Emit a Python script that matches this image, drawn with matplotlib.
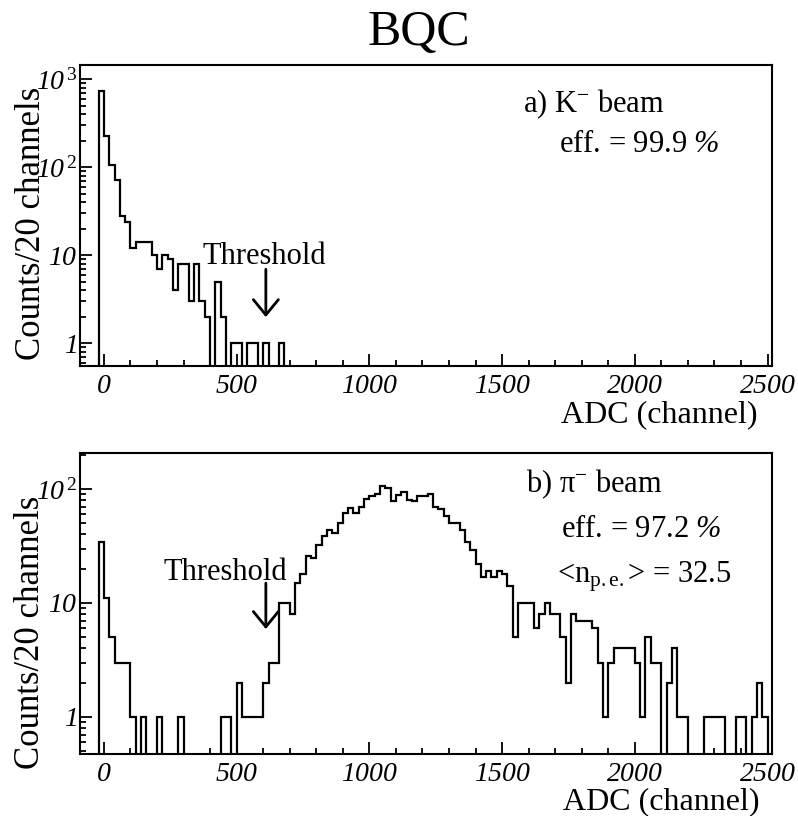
import numpy as np
import matplotlib
matplotlib.use("Agg")
import matplotlib.pyplot as plt
from matplotlib.ticker import MultipleLocator, LogLocator, FuncFormatter, NullFormatter

plt.rcParams['font.family'] = ['Liberation Serif', 'DejaVu Serif']
plt.rcParams['mathtext.fontset'] = 'custom'
plt.rcParams['mathtext.rm'] = 'Liberation Serif'
plt.rcParams['mathtext.it'] = 'Liberation Serif:italic'
# sf slot used for italic digits (mathit turns digits upright)
plt.rcParams['mathtext.sf'] = 'Liberation Serif:italic'
plt.rcParams['mathtext.bf'] = 'Liberation Serif:bold'

# ADC bins of 20 channels
edges = np.arange(-20, 2521, 20)
nbins = len(edges) - 1

# a) K- beam, counts per bin (read off the plot), rest are empty
kaon_counts = [730, 225, 107, 71, 28, 24, 12, 14, 14, 14,
               10, 7, 10, 9, 4, 8, 8, 3, 8, 3,
               2, 0, 5, 2, 0, 1, 1, 0, 1, 1,
               0, 1, 0, 0, 1]

# b) pi- beam
pion_counts = [34, 11, 5, 3, 3, 3, 1, 0, 1, 0,
               0, 1, 0, 0, 0, 1, 0, 0, 0, 0,
               0, 0, 0, 1, 1, 0, 2, 1, 1, 1,
               1, 2, 3, 3, 10, 10, 8, 15, 18, 26,
               25, 32, 39, 44, 41, 50, 61, 68, 61, 70,
               81, 86, 91, 105, 101, 79, 88, 93, 80, 79,
               87, 87, 90, 69, 66, 58, 50, 50, 44, 34,
               29, 22, 17, 19, 17, 19, 18, 14, 5, 10,
               10, 10, 6, 8, 10, 8, 8, 5, 2, 8,
               7, 7, 7, 6, 3, 1, 3, 4, 4, 4,
               4, 3, 1, 5, 3, 3, 0, 2, 4, 1,
               1, 0, 0, 0, 1, 1, 1, 1, 0, 0,
               1, 1, 0, 1, 2, 1, 0]

threshold = 610
xlim = (-90, 2515)
ylim_a = (0.548, 1460)
ylim_b = (0.473, 207)


def pad(counts):
    c = np.zeros(nbins)
    c[:len(counts)] = counts
    return c


def ylab(v, pos):
    e = int(round(np.log10(v)))
    if e == 0:
        return r'$\mathsf{1}\,\,\,\,$'
    if e == 1:
        return r'$\mathsf{10}\,\,\,$'
    return r'$\mathsf{10}^{\,\mathrm{%d}}$' % e


def xlab(v, pos):
    return r'$\mathsf{%d}$' % int(round(v))


def draw(ax, counts, ylim):
    c = pad(counts)
    low = ylim[0] * 0.01
    ax.stairs(np.where(c > 0, c, low), edges, baseline=low, color='k', lw=1.6)
    ax.set_yscale('log')
    ax.set_xlim(xlim)
    ax.set_ylim(ylim)
    ax.xaxis.set_major_locator(MultipleLocator(500))
    ax.xaxis.set_minor_locator(MultipleLocator(100))
    ax.xaxis.set_major_formatter(FuncFormatter(xlab))
    ax.yaxis.set_major_locator(LogLocator(base=10))
    ax.yaxis.set_minor_locator(LogLocator(base=10, subs=np.arange(2, 10)))
    ax.yaxis.set_major_formatter(FuncFormatter(ylab))
    ax.yaxis.set_minor_formatter(NullFormatter())
    ax.tick_params(which='both', direction='in', top=False, right=False, width=1.3)
    ax.tick_params(which='major', length=8.5, labelsize=20)
    ax.tick_params(axis='x', which='major', pad=6)
    ax.tick_params(axis='y', which='major', pad=2)
    ax.tick_params(which='minor', length=4.5)
    for s in ax.spines.values():
        s.set_linewidth(1.5)
    ax.set_xlabel('ADC (channel)', fontsize=23, ha='right', va='baseline')
    ax.set_ylabel('Counts/20 channels', fontsize=25, va='center')


fig = plt.figure(figsize=(7.98, 8.16), dpi=100)
ax1 = fig.add_axes([0.1003, 0.5515, 0.8665, 0.369])
ax2 = fig.add_axes([0.1003, 0.0760, 0.8665, 0.369])

draw(ax1, kaon_counts, ylim_a)
draw(ax2, pion_counts, ylim_b)

ax1.xaxis.set_label_coords(0.980, -0.186)
ax2.xaxis.set_label_coords(0.983, -0.182)
ax1.yaxis.set_label_coords(-0.070, 0.475)
ax2.yaxis.set_label_coords(-0.071, 0.405)

fig.text(0.525, 0.945, 'BQC', fontsize=36, ha='center', va='baseline')

# labels
ax1.text(0.640, 0.844, r'a) K$^{-}$ beam', transform=ax1.transAxes, fontsize=22, va='baseline')
ax1.text(0.6925, 0.711, r'eff. = 99.9 $\mathsf{\%}$', transform=ax1.transAxes, fontsize=22, va='baseline')
ax2.text(0.645, 0.870, r'b) π$^{-}$ beam', transform=ax2.transAxes, fontsize=22, va='baseline')
ax2.text(0.695, 0.721, r'eff. = 97.2 $\mathsf{\%}$', transform=ax2.transAxes, fontsize=22, va='baseline')
ax2.text(0.690, 0.571, r'<n$_{\mathregular{p{.}e{.}}}$> = 32.5', transform=ax2.transAxes, fontsize=22, va='baseline')

# threshold arrows
arrow = dict(arrowstyle='->,head_length=0.55,head_width=0.45', lw=2, color='k',
             mutation_scale=20, shrinkA=0, shrinkB=0)
ax1.text(605, 8.0, 'Threshold', fontsize=22, ha='center', va='baseline')
ax1.annotate('', xy=(threshold, 1.97), xytext=(threshold, 6.9), arrowprops=arrow)
ax2.text(459, 15.9, 'Threshold', fontsize=22, ha='center', va='baseline')
ax2.annotate('', xy=(threshold, 5.9), xytext=(threshold, 14.9), arrowprops=arrow)

fig.savefig('out.png', dpi=100)
